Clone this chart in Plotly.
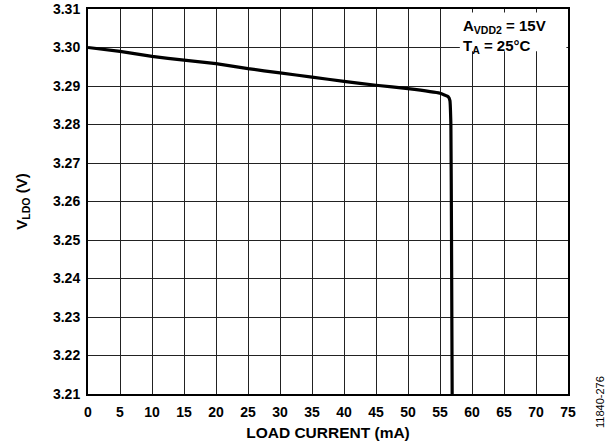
import plotly.graph_objects as go

load_current = [0, 5, 10, 15, 20, 25, 30, 35, 40, 45, 50, 55, 56.3, 56.55, 56.7, 56.8, 56.9]
v_ldo = [3.3000, 3.2990, 3.2977, 3.2967, 3.2958, 3.2945, 3.2934, 3.2923, 3.2912, 3.2902,
         3.2893, 3.2881, 3.2872, 3.2862, 3.2800, 3.2500, 3.2100]

x_ticks = list(range(0, 80, 5))
y_ticks = [3.21, 3.22, 3.23, 3.24, 3.25, 3.26, 3.27, 3.28, 3.29, 3.30, 3.31]

font = "Liberation Sans, Arial, sans-serif"

fig = go.Figure()
fig.add_trace(go.Scatter(x=load_current, y=v_ldo, mode="lines",
                         line=dict(color="black", width=3.2, shape="spline", smoothing=0.3),
                         showlegend=False, hoverinfo="skip"))

fig.add_shape(type="rect", xref="x", yref="y", x0=58.1, x1=74.75, y0=3.2990, y1=3.3091,
              fillcolor="white", line=dict(width=0), layer="above")
fig.add_annotation(xref="x", yref="y", x=58.4, y=3.3082, xanchor="left", yanchor="top",
                   align="left", showarrow=False, borderpad=0,
                   text="<b>A<sub>VDD2</sub> = 15V</b>",
                   font=dict(family=font, size=15, color="black"))
fig.add_annotation(xref="x", yref="y", x=58.4, y=3.3030, xanchor="left", yanchor="top",
                   align="left", showarrow=False, borderpad=0,
                   text="<b>T<sub>A</sub> = 25°C</b>",
                   font=dict(family=font, size=15, color="black"))

fig.add_annotation(xref="paper", yref="paper", x=(600 - 88) / 480, y=(394 - 402) / 385,
                   xanchor="center", yanchor="middle",
                   text="11840-276", textangle=-90, showarrow=False,
                   font=dict(family=font, size=11, color="black"))

axis_common = dict(showgrid=True, gridcolor="#222222", gridwidth=1, zeroline=False,
                   showline=True, linecolor="black", linewidth=2, mirror=True,
                   ticks="", automargin=False,
                   tickfont=dict(family=font, size=14, color="black"))

fig.update_xaxes(range=[0, 75], tickvals=x_ticks, ticktext=[f"<b>{v}</b>" for v in x_ticks],
                 ticklabelstandoff=4,
                 title=dict(text="<b>LOAD CURRENT (mA)</b>", font=dict(family=font, size=15.5, color="black"), standoff=8),
                 **axis_common)
fig.update_yaxes(range=[3.21, 3.31], tickvals=y_ticks, ticktext=[f"<b>{v:.2f}</b>" for v in y_ticks],
                 ticklabelstandoff=3,
                 title=dict(text="<b>V<sub>LDO</sub> (V)</b>", font=dict(family=font, size=15, color="black"), standoff=22),
                 **axis_common)

fig.update_layout(width=613, height=448, margin=dict(l=88, r=45, t=9, b=54),
                  plot_bgcolor="white", paper_bgcolor="white")

fig.write_html("out.html", config={"displayModeBar": False},
               post_script="document.body.style.margin='0';")
